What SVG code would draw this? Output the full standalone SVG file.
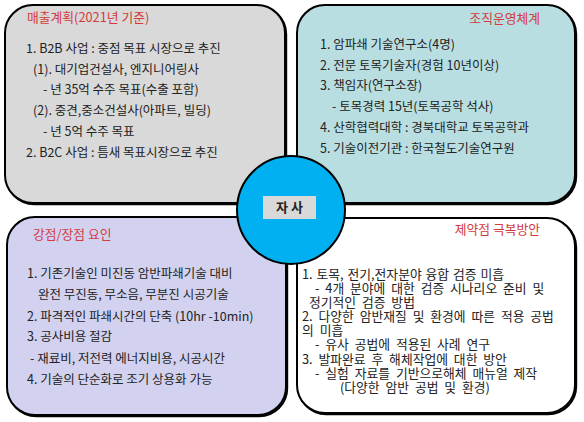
<svg xmlns="http://www.w3.org/2000/svg" width="584" height="422" viewBox="0 0 584 422">
<style>
.box{stroke:#000;stroke-width:2}
.sh{fill:none;stroke:#000;stroke-width:2}
.t{font-family:"Noto Sans CJK KR","Noto Sans",sans-serif;font-size:12.5px;fill:#222}
.b{font-family:"Noto Sans CJK KR","Noto Sans",sans-serif;font-size:12.8px;fill:#222;word-spacing:3px}
.h{font-family:"Noto Sans CJK KR","Noto Sans",sans-serif;font-size:12.8px;fill:#d23a3c}
</style>
<rect width="584" height="422" fill="#fff"/>
<g id="sales-plan">
<rect class="sh" x="6.2" y="6.2" width="280" height="198" rx="28"/>
<rect class="box" x="5" y="5" width="280" height="198" rx="28" fill="#d9d9d9"/>
<text class="h" x="27" y="22">매출계획(2021년 기준)</text>
<text class="t" x="26" y="53">1. B2B 사업 : 중점 목표 시장으로 추진</text>
<text class="t" x="33" y="74">(1). 대기업건설사, 엔지니어링사</text>
<text class="t" x="43" y="94">- 년 35억 수주 목표(수출 포함)</text>
<text class="t" x="33" y="115">(2). 중견,중소건설사(아파트, 빌딩)</text>
<text class="t" x="43" y="136">- 년 5억 수주 목표</text>
<text class="t" x="26" y="157">2. B2C 사업 : 틈새 목표시장으로 추진</text>
</g>
<g id="organization">
<rect class="sh" x="298.2" y="6.2" width="278" height="198" rx="28"/>
<rect class="box" x="297" y="5" width="278" height="198" rx="28" fill="#b9dee1"/>
<text class="h" x="540" y="23" text-anchor="end">조직운영체계</text>
<text class="t" x="320" y="49">1. 암파쇄 기술연구소(4명)</text>
<text class="t" x="320" y="70">2. 전문 토목기술자(경험 10년이상)</text>
<text class="t" x="320" y="90">3. 책임자(연구소장)</text>
<text class="t" x="332" y="111">- 토목경력 15년(토목공학 석사)</text>
<text class="t" x="320" y="132">4. 산학협력대학 : 경북대학교 토목공학과</text>
<text class="t" x="320" y="153">5. 기술이전기관 : 한국철도기술연구원</text>
</g>
<g id="strengths">
<rect class="sh" x="8.2" y="218.2" width="279" height="198" rx="28"/>
<rect class="box" x="7" y="217" width="279" height="198" rx="28" fill="#d2d2f0"/>
<text class="h" x="33" y="239">강점/장점 요인</text>
<text class="t" x="27" y="278">1. 기존기술인 미진동 암반파쇄기술 대비</text>
<text class="t" x="38" y="299">완전 무진동, 무소음, 무분진 시공기술</text>
<text class="t" x="27" y="321">2. 파격적인 파쇄시간의 단축 (10hr -10min)</text>
<text class="t" x="27" y="341">3. 공사비용 절감</text>
<text class="t" x="30" y="363">- 재료비, 저전력 에너지비용, 시공시간</text>
<text class="t" x="27" y="384">4. 기술의 단순화로 조기 상용화 가능</text>
</g>
<g id="constraints">
<rect class="sh" x="298.2" y="219.2" width="278" height="195" rx="28"/>
<rect class="box" x="297" y="218" width="278" height="195" rx="28" fill="#fff"/>
<text class="h" x="540" y="234" text-anchor="end">제약점 극복방안</text>
<text class="b" x="302" y="279" style="word-spacing:1px">1. 토목, 전기,전자분야 융합 검증 미흡</text>
<text class="b" x="315" y="293">- 4개 분야에 대한 검증 시나리오 준비  및</text>
<text class="b" x="309" y="307">정기적인 검증 방법</text>
<text class="b" x="302" y="321">2. 다양한 암반재질 및 환경에 따른 적용 공법</text>
<text class="b" x="302" y="335">의 미흡</text>
<text class="b" x="315" y="349">- 유사 공법에 적용된 사례 연구</text>
<text class="b" x="302" y="364">3. 발파완료 후 해체작업에 대한 방안</text>
<text class="b" x="315" y="378">- 실험 자료를 기반으로해체 매뉴얼  제작</text>
<text class="b" x="340" y="392">(다양한 암반  공법 및 환경)</text>
</g>
<g id="company">
<circle cx="291" cy="210" r="54" fill="#00b0f0" stroke="#000" stroke-width="2"/>
<rect x="263" y="196" width="53" height="23" fill="#d9d9d9"/>
<text x="289.5" y="212" text-anchor="middle" font-family="'Noto Sans CJK KR','Noto Sans',sans-serif" font-size="13" font-weight="bold" fill="#222">자 사</text>
</g>
<g id="connectors"/>
</svg>
